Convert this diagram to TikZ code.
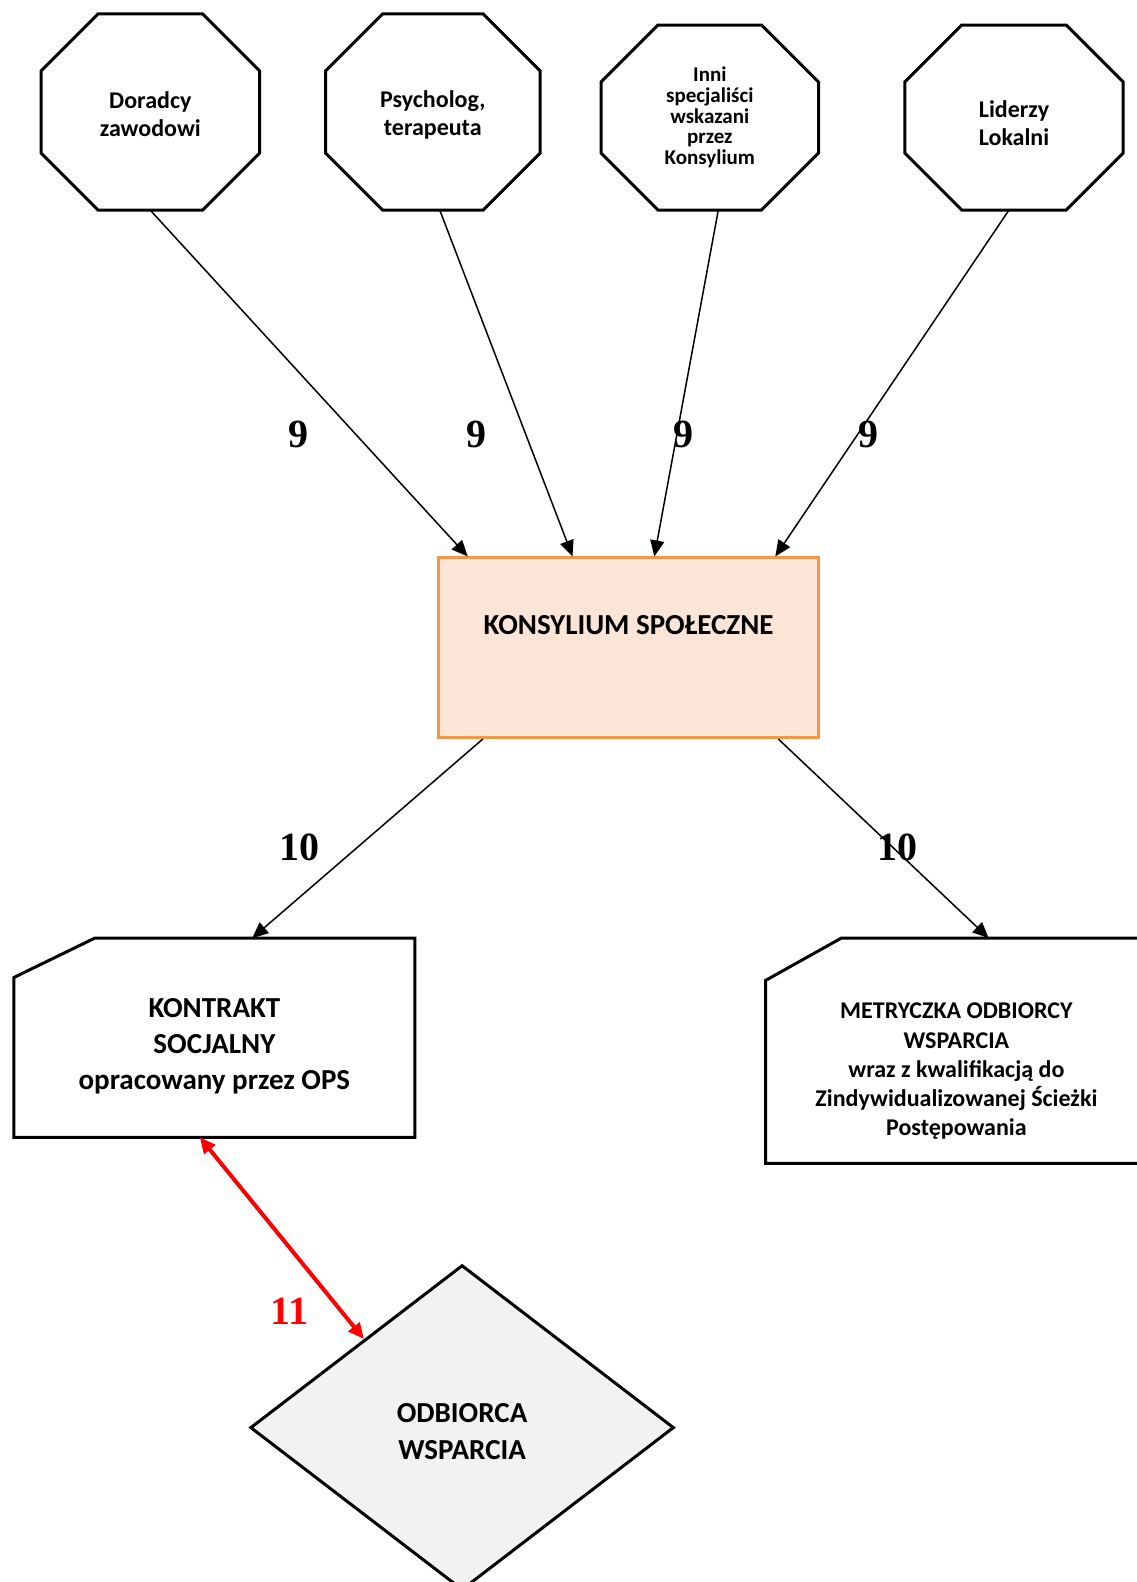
\documentclass[tikz,border=0pt]{standalone}
\usepackage{fontspec}
\setmainfont{Carlito}
\newfontfamily\timesfont{Liberation Serif}
\usepackage{xcolor}
\usepackage{tikz}
\usetikzlibrary{shapes.geometric}
\usetikzlibrary{arrows.meta}
\usetikzlibrary{calc}

\definecolor{konsfill}{RGB}{251,229,214}
\definecolor{konsdraw}{RGB}{247,150,70}
\definecolor{odbfill}{RGB}{242,242,242}

\tikzset{
  expert/.style={inner sep=0pt, align=center, minimum width=218pt, minimum height=196pt,
    font=\bfseries\fontsize{24}{28.2}\selectfont},
  frame/.style={line width=3pt},
  boxtext/.style={align=center, inner sep=0pt},
  link/.style={-{Triangle[length=16pt,width=14pt]}, line width=1.5pt},
  numlabel/.style={font=\timesfont\bfseries\fontsize{40}{40}\selectfont, inner sep=0pt},
}

% octagon drawn round a named node, corners cut by 57 (y axis is flipped)
\newcommand{\octframe}[1]{%
  \draw [frame] ([xshift=57pt]#1.north west) -- ([xshift=-57pt]#1.north east) -- ([yshift=57pt]#1.north east) -- ([yshift=-57pt]#1.south east) -- ([xshift=-57pt]#1.south east) -- ([xshift=57pt]#1.south west) -- ([yshift=-57pt]#1.south west) -- ([yshift=57pt]#1.north west) -- cycle ;}

\begin{document}
\begin{tikzpicture}[x=1pt,y=1pt,yscale=-1,xscale=1]
		\useasboundingbox (0,0) rectangle (1137,1582);
		
		%Shape: Octagon [Doradcy]
		\node [expert, label={[boxtext, font=\bfseries\fontsize{24}{28.2}\selectfont, yshift=-2pt]center:{Doradcy\\zawodowi}}] (o1) at (150.3,112) {};
		\octframe{o1}
		%Shape: Octagon [Psycholog]
		\node [expert, minimum width=214pt, label={[boxtext, font=\bfseries\fontsize{24}{28.2}\selectfont, yshift=-3pt]center:{Psycholog,\\terapeuta}}] (o2) at (432.8,112) {};
		\octframe{o2}
		%Shape: Octagon [Inni specjalisci]
		\node [expert, minimum width=217pt, minimum height=184.6pt, font=\bfseries\fontsize{21}{20.7}\selectfont] (o3) at (709.8,117.5) {Inni\\specjaliści\\wskazani\\przez\\Konsylium};
		\octframe{o3}
		%Shape: Octagon [Liderzy]
		\node [expert, minimum height=184.6pt, label={[boxtext, font=\bfseries\fontsize{24}{28.2}\selectfont, yshift=-6pt]center:{Liderzy\\Lokalni}}] (o4) at (1014,117.5) {};
		\octframe{o4}
		
		%Shape: Rectangle [Konsylium]
		\node [draw=konsdraw, fill=konsfill, line width=3pt, minimum width=379.3pt, minimum height=179.6pt, inner sep=0pt, text depth=46pt, font=\bfseries\fontsize{29}{35}\selectfont] (ks) at (628.6,647.7) {KONSYLIUM SPOŁECZNE};
		
		%Shape: Card [Kontrakt]
		\node [minimum width=400.5pt, minimum height=198.7pt, inner sep=0pt, label={[boxtext, font=\bfseries\fontsize{29}{36.4}\selectfont, yshift=-8.5pt]center:{KONTRAKT\\SOCJALNY\\opracowany przez OPS}}] (kon) at (214.4,1037.7) {};
		\draw [frame] ([xshift=80.7pt]kon.north west) -- (kon.north east) -- (kon.south east) -- (kon.south west) -- ([yshift=39.3pt]kon.north west) -- cycle ;
		%Shape: Card [Metryczka]
		\node [minimum width=381.4pt, minimum height=224.9pt, inner sep=0pt, label={[boxtext, font=\bfseries\fontsize{24}{29.3}\selectfont, yshift=-20.6pt]center:{METRYCZKA ODBIORCY\\WSPARCIA\\wraz z kwalifikacją do\\Zindywidualizowanej Ścieżki\\Postępowania}}] (met) at (956.4,1050.8) {};
		\draw [frame] ([xshift=75.7pt]met.north west) -- (met.north east) -- (met.south east) -- (met.south west) -- ([yshift=42.3pt]met.north west) -- cycle ;
		
		%Shape: Diamond [Odbiorca]
		\node [diamond, draw, fill=odbfill, line width=3pt, inner sep=0pt, minimum width=423.7pt, minimum height=325pt, label={[boxtext, font=\bfseries\fontsize{29}{36.4}\selectfont, yshift=-4pt]center:{ODBIORCA\\WSPARCIA}}] (odb) at (462.1,1427.6) {};
		
		%Straight Lines [9]
		\draw [link] (o1.south) -- ($(ks.north west)+(30.2,0)$) ;
		\draw [link] ([xshift=7pt]o2.south) -- ($(ks.north west)+(135.1,0)$) ;
		\draw [link] ([xshift=8.5pt]o3.south) -- ($(ks.north west)+(216.9,0)$) ;
		\draw [link] ([xshift=-5pt]o4.south) -- ($(ks.north west)+(337.9,0)$) ;
		%Straight Lines [10]
		\draw [link] ($(ks.south west)+(45.4,0)$) -- ([xshift=37.8pt]kon.north) ;
		\draw [link] ($(ks.south east)+(-41.4,0)$) -- ([xshift=32.3pt]met.north) ;
		%Straight Lines [11]
		\draw [red, line width=4pt, {Triangle[length=16pt,width=14pt]}-{Triangle[length=16pt,width=14pt]}] ([xshift=-14.6pt]kon.south) -- ($(odb.west)!0.54!(odb.north)$) ;
		
		% Text Node
		\node [numlabel] (n9a) at (298.6,434.8) {9};
		% Text Node
		\node [numlabel] (n9b) at (476.2,434.8) {9};
		% Text Node
		\node [numlabel] (n9c) at (683,434.8) {9};
		% Text Node
		\node [numlabel] (n9d) at (868.6,434.8) {9};
		% Text Node
		\node [numlabel] (n10a) at (299.6,847.5) {10};
		% Text Node
		\node [numlabel] (n10b) at (897.9,847.5) {10};
		% Text Node
		\node [numlabel, red] (n11) at (289.5,1311.5) {11};
		
\end{tikzpicture}
\end{document}
